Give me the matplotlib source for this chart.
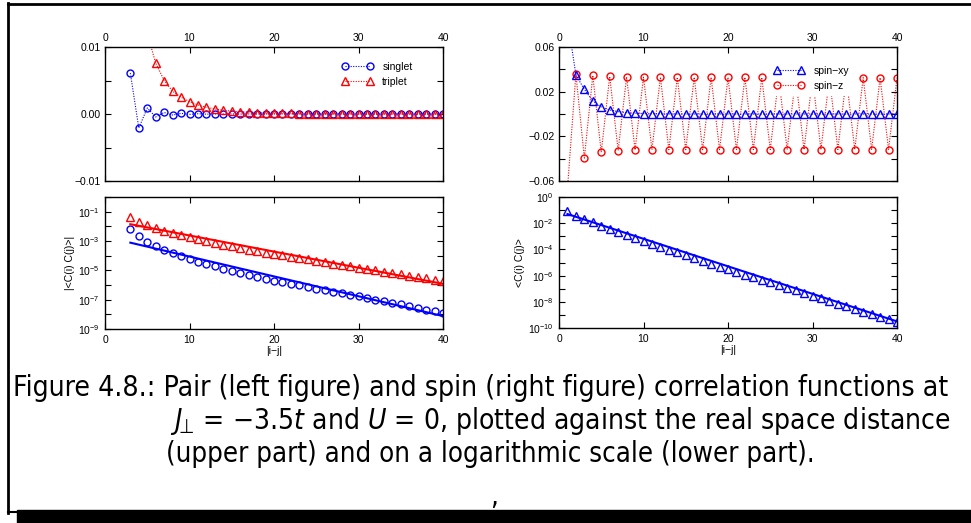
import numpy as np
import matplotlib
matplotlib.use('Agg')
import matplotlib.pyplot as plt
from matplotlib.lines import Line2D
from matplotlib.patches import Rectangle

plt.rcParams['font.family'] = ['Liberation Sans', 'DejaVu Sans']
plt.rcParams['mathtext.fontset'] = 'custom'
plt.rcParams['mathtext.rm'] = 'DejaVu Sans:stretch=condensed'
plt.rcParams['mathtext.it'] = 'DejaVu Sans:italic:stretch=condensed'
plt.rcParams['axes.linewidth'] = 1.0

# --- data ---
x_pair = np.arange(3, 41)
singlet = [6.1e-3, -2.1e-3, 9.0e-4, -4.4e-4, 2.3e-4, -1.5e-4, 9.3e-5, -6.0e-5,
           4.0e-5, -2.7e-5, 1.9e-5, -1.3e-5, 9.5e-6, -6.9e-6, 5.0e-6, -3.6e-6,
           2.7e-6, -2.0e-6, 1.55e-6, -1.2e-6, 9.3e-7, -7.2e-7, 5.6e-7, -4.4e-7,
           3.5e-7, -2.7e-7, 2.1e-7, -1.66e-7, 1.3e-7, -1.0e-7, 7.8e-8, -6.0e-8,
           4.7e-8, -3.6e-8, 2.8e-8, -2.1e-8, 1.66e-8, -1.26e-8]
triplet = [4.5e-2, 1.9e-2, 1.2e-2, 7.6e-3, 5.0e-3, 3.4e-3, 2.5e-3, 1.85e-3,
           1.35e-3, 1.0e-3, 7.5e-4, 5.6e-4, 4.3e-4, 3.3e-4, 2.6e-4, 2.0e-4,
           1.6e-4, 1.3e-4, 1.05e-4, 8.5e-5, 6.8e-5, 5.5e-5, 4.4e-5, 3.6e-5,
           2.9e-5, 2.3e-5, 1.9e-5, 1.55e-5, 1.25e-5, 1.0e-5, 8.2e-6, 6.6e-6,
           5.3e-6, 4.3e-6, 3.5e-6, 2.8e-6, 2.2e-6, 1.8e-6]
fit_x = [3, 40]
singlet_fit = [7.7e-4, 7.6e-9]
triplet_fit = [1.4e-2, 1.2e-6]

x_spin = np.arange(1, 41)
spin_xy = [8.5e-2, 3.5e-2, 2.2e-2, 1.17e-2, 6.3e-3, 3.6e-3, 2.1e-3, 1.23e-3,
           7.1e-4, 4.2e-4, 2.5e-4, 1.55e-4, 9.3e-5, 5.8e-5, 3.5e-5, 2.1e-5,
           1.3e-5, 7.9e-6, 4.9e-6, 3.0e-6, 1.9e-6, 1.2e-6, 7.6e-7, 4.8e-7,
           3.0e-7, 1.9e-7, 1.2e-7, 7.4e-8, 4.7e-8, 3.0e-8, 1.9e-8, 1.2e-8,
           7.2e-9, 4.6e-9, 2.9e-9, 1.8e-9, 1.15e-9, 7.2e-10, 4.5e-10, 2.8e-10]
spin_z = [-0.067, 0.036, -0.0395, 0.0345, -0.0342, 0.0336, -0.0327, 0.0332,
          -0.0322, 0.0330, -0.0320, 0.0330, -0.0320, 0.0329, -0.0320, 0.0329,
          -0.0320, 0.0328, -0.0320, 0.0328, -0.0319, 0.0328, -0.0319, 0.0327,
          -0.0319, 0.0327, -0.0319, 0.0327, -0.0319, 0.0326, -0.0319, 0.0326,
          -0.0318, 0.0325, -0.0318, 0.0325, -0.0318, 0.0325, -0.0318, 0.0324]
spin_fit_x = [1, 40]
spin_fit = [5.0e-2, 3.2e-10]

caption_lines = [
    'Figure 4.8.: Pair (left figure) and spin (right figure) correlation functions at',
    '$J_{\\!\\mathregular{\u22a5}}$ = \u22123.5$t$ and $U$ = 0, plotted against the real space distance',
    '(upper part) and on a logarithmic scale (lower part).',
]

W, H = 971, 523
fig = plt.figure(figsize=(W / 100, H / 100), dpi=100)


def px_axes(x0, y0, x1, y1):
    return fig.add_axes([x0 / W, 1 - y1 / H, (x1 - x0) / W, (y1 - y0) / H])


ax_lt = px_axes(105, 47, 443, 181)
ax_lb = px_axes(105, 197, 443, 329)
ax_rt = px_axes(559, 47, 897, 181)
ax_rb = px_axes(559, 197, 897, 328)

blue, red = '#0000ff', '#ff0000'
dots = (0, (1, 1.3))
fs = 7.5
circ = dict(marker='o', mfc='none', ms=5, mew=1.0)
tri = dict(marker='^', mfc='none', ms=6, mew=1.0)
leg = dict(loc='upper left', frameon=True, facecolor='white', edgecolor='none',
           framealpha=1, fancybox=False, fontsize=fs, numpoints=2,
           handletextpad=0.9, borderpad=0.5, borderaxespad=0, labelspacing=0.5)

for ax in (ax_lt, ax_lb, ax_rt, ax_rb):
    ax.set_xlim(0, 40)
    ax.set_xticks([0, 10, 20, 30, 40])
    ax.tick_params(which='both', direction='in', top=True, right=True,
                   labelsize=fs, pad=4, width=0.8)
    ax.tick_params(which='major', length=4)
    ax.tick_params(which='minor', length=2)

for ax in (ax_lt, ax_rt):
    ax.tick_params(labeltop=True, labelbottom=False, pad=3)

# ---- left top: pair correlations ----
ax_lt.plot(x_pair, singlet, color=blue, ls=dots, lw=0.8, label='singlet', **circ)
ax_lt.plot(x_pair, triplet, color=red, ls=dots, lw=0.8, label='triplet', **tri)
ax_lt.set_ylim(-0.01, 0.01)
ax_lt.set_yticks([-0.01, -0.005, 0, 0.005, 0.01])
ax_lt.set_yticklabels(['\u22120.01', '', '0.00', '', '0.01'])
ax_lt.legend(bbox_to_anchor=(0.685, 0.93), handlelength=3.0, **leg)

# ---- left bottom: log scale ----
ax_lb.semilogy(x_pair, np.abs(singlet), ls='none', color=blue, **circ)
ax_lb.semilogy(x_pair, triplet, ls='none', color=red, **tri)
ax_lb.semilogy(fit_x, singlet_fit, color=blue, lw=1.5)
ax_lb.semilogy(fit_x, triplet_fit, color=red, lw=1.5)
ax_lb.set_ylim(1e-9, 1)
ax_lb.set_yticks([10.0 ** k for k in range(-9, 1)])
ax_lb.set_yticklabels([r'$\mathregular{10^{%d}}$' % k if k % 2 else ''
                       for k in range(-9, 1)])
ax_lb.set_xlabel('|i\u2212j|', fontsize=fs, labelpad=1)
ax_lb.set_ylabel('|<C(i) C(j)>|', fontsize=fs, labelpad=2)

# ---- right top: spin correlations ----
ax_rt.plot(x_spin, spin_z, color=red, ls=dots, lw=0.8, label='spin\u2212z', **circ)
ax_rt.plot(x_spin, spin_xy, color=blue, ls=dots, lw=0.8, label='spin\u2212xy', **tri)
ax_rt.set_ylim(-0.06, 0.06)
ax_rt.set_yticks([-0.06, -0.04, -0.02, 0, 0.02, 0.04, 0.06])
ax_rt.set_yticklabels(['\u22120.06', '', '\u22120.02', '', '0.02', '', '0.06'])
h, l = ax_rt.get_legend_handles_labels()
ax_rt.legend(h[::-1], l[::-1], bbox_to_anchor=(0.62, 0.90), handlelength=2.9, **leg)

# ---- right bottom: log scale ----
ax_rb.semilogy(x_spin, spin_xy, ls='none', color=blue, **tri)
ax_rb.semilogy(spin_fit_x, spin_fit, color=blue, lw=1.5)
ax_rb.set_ylim(1e-10, 1)
ax_rb.set_yticks([10.0 ** k for k in range(-10, 1)])
ax_rb.set_yticklabels([r'$\mathregular{10^{%d}}$' % k if k % 2 == 0 else ''
                       for k in range(-10, 1)])
ax_rb.set_xlabel('|i\u2212j|', fontsize=fs, labelpad=1)
ax_rb.set_ylabel('<C(i) C(j)>', fontsize=fs, labelpad=2)

# ---- caption (each line fitted to its width in the page) ----
cap = dict(fontsize=20, family='DejaVu Sans', stretch='condensed',
           va='baseline', ha='left')
lines_px = [(13, 396, 948), (170, 429, 950), (166, 462, 813)]
texts = [fig.text(x0 / W, 1 - yb / H, s, **cap)
         for (x0, yb, _), s in zip(lines_px, caption_lines)]
fig.text(490 / W, 1 - 505 / H, ',', **cap)
fig.canvas.draw()
rend = fig.canvas.get_renderer()
for t, (x0, _, x1) in zip(texts, lines_px):
    t.set_fontsize(cap['fontsize'] * (x1 - x0) / t.get_window_extent(rend).width)

# ---- page frame ----
fig.add_artist(Line2D([7.5 / W, 1], [1 - 3.5 / H, 1 - 3.5 / H], color='k', lw=2,
                      transform=fig.transFigure))
fig.add_artist(Line2D([7.5 / W, 7.5 / W], [1 - 3 / H, 1 - 513 / H], color='k', lw=2,
                      transform=fig.transFigure))
fig.add_artist(Line2D([7.5 / W, 17 / W], [1 - 512 / H, 1 - 512 / H], color='k', lw=1.5,
                      transform=fig.transFigure))
fig.add_artist(Rectangle((17 / W, 0), 1 - 17 / W, 13 / H, color='k',
                         transform=fig.transFigure))

fig.savefig('out.png', dpi=100)
